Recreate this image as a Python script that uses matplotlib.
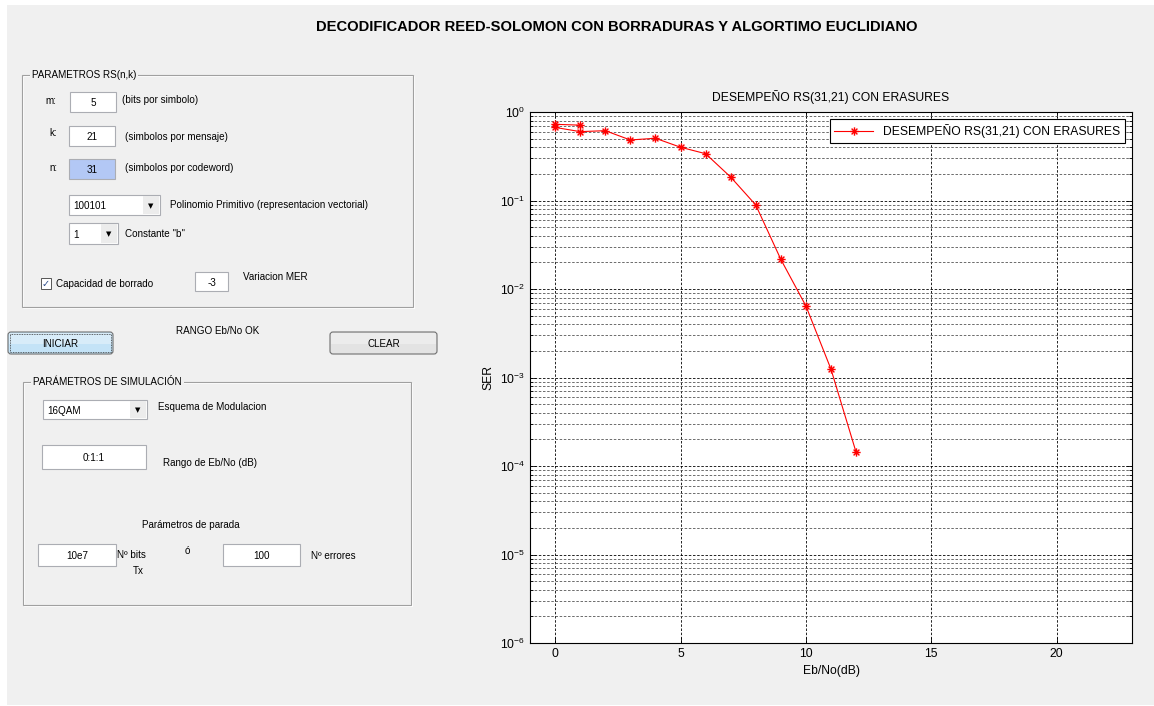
import numpy as np
import matplotlib
matplotlib.use("Agg")
import matplotlib.pyplot as plt
from matplotlib.patches import Rectangle, FancyBboxPatch
from matplotlib.path import Path
from matplotlib.ticker import LogLocator, NullFormatter

plt.rcParams['font.family'] = ['Liberation Sans', 'DejaVu Sans']
plt.rcParams['axes.unicode_minus'] = False

# data
ebno_last = [0, 1]
ser_last = [0.726, 0.71]
ebno_full = [0, 1, 2, 3, 4, 5, 6, 7, 8, 9, 10, 11, 12]
ser_full = [0.67, 0.60, 0.615, 0.483, 0.505, 0.40, 0.338, 0.184, 0.089,
            0.0216, 0.00643, 0.00124, 0.000143]
legend_label = 'DESEMPEÑO RS(31,21) CON ERASURES'
x_ticks = [0, 5, 10, 15, 20]

W, H = 1154, 706
fig = plt.figure(figsize=(W / 100, H / 100), dpi=100, facecolor='white')

# pixel-space canvas for the GUI widgets
bg = fig.add_axes([0, 0, 1, 1])
bg.set_xlim(0, W)
bg.set_ylim(H, 0)
bg.axis('off')
bg.add_patch(Rectangle((7, 5), W - 7, 700, fc='#f0f0f0', ec='none'))

GUI_FS = 7.1


def label(x, y, s, ha='left', fs=GUI_FS, **kw):
    bg.text(x, y, s, ha=ha, va='center', fontsize=fs, color='black', **kw)


def edit_box(x0, y0, x1, y1, s, fc='white'):
    bg.add_patch(Rectangle((x0, y0), x1 - x0, y1 - y0, fc=fc, ec='#abadb3', lw=0.8))
    label((x0 + x1) / 2, (y0 + y1) / 2 + 1, s, ha='center')


def popup(x0, y0, x1, y1, s):
    bg.add_patch(Rectangle((x0, y0), x1 - x0, y1 - y0, fc='white', ec='#abadb3', lw=0.8))
    bg.add_patch(Rectangle((x1 - 17, y0 + 1), 16, y1 - y0 - 2, fc='#ececec', ec='none'))
    label(x0 + 4, (y0 + y1) / 2 + 1, s)
    bg.text(x1 - 9, (y0 + y1) / 2 + 1, '▼', ha='center', va='center', fontsize=5,
            family='DejaVu Sans')


def button(x0, y0, x1, y1, s, fc='#e3e3e3', focus=False):
    bg.add_patch(FancyBboxPatch((x0, y0), x1 - x0, y1 - y0,
                                boxstyle='round,pad=0,rounding_size=3',
                                fc=fc, ec='#707070', lw=0.8))
    bg.add_patch(Rectangle((x0 + 1, y0 + 1), x1 - x0 - 2, (y1 - y0) / 2,
                           fc='white', ec='none', alpha=0.35))
    if focus:
        bg.add_patch(Rectangle((x0 + 2, y0 + 2), x1 - x0 - 4, y1 - y0 - 4,
                               fc='none', ec='#333333', lw=0.6, ls=(0, (1, 1))))
    label((x0 + x1) / 2, (y0 + y1) / 2 + 1, s, ha='center')


def panel(x0, y0, x1, y1, title):
    bg.add_patch(Rectangle((x0 + 1, y0 + 1), x1 - x0, y1 - y0, fc='none', ec='white', lw=0.8))
    bg.add_patch(Rectangle((x0, y0), x1 - x0, y1 - y0, fc='none', ec='#a0a0a0', lw=0.8))
    bg.text(x0 + 10, y0, title, ha='left', va='center', fontsize=GUI_FS,
            bbox=dict(fc='#f0f0f0', ec='none', pad=1.5))


# main title
bg.text(617, 27, 'DECODIFICADOR REED-SOLOMON CON BORRADURAS Y ALGORTIMO EUCLIDIANO',
        ha='center', va='center', fontsize=10.6, fontweight='bold')

# panel RS(n,k)
panel(22, 75, 413, 307, 'PARAMETROS RS(n,k)')
label(45, 101, 'm:')
edit_box(70, 92, 116, 112, '5')
label(122, 100, '(bits por simbolo)')
label(49, 133, 'k:')
edit_box(69, 126, 115, 146, '21')
label(125, 137, '(simbolos por mensaje)')
label(49, 168, 'n:')
edit_box(69, 159, 115, 179, '31', fc='#b3c8f5')
label(125, 168, '(simbolos por codeword)')
popup(69, 195, 160, 215, '100101')
label(170, 205, 'Polinomio Primitivo (representacion vectorial)')
popup(69, 223, 118, 244, '1')
label(125, 234, 'Constante "b"')
bg.add_patch(Rectangle((41, 278), 10, 11, fc='white', ec='#555555', lw=0.7))
bg.text(46, 284, '✓', ha='center', va='center', fontsize=7, color='#2a4a8a',
        family='DejaVu Sans')
label(56, 284, 'Capacidad de borrado')
edit_box(195, 272, 228, 291, '-3')
label(243, 277, 'Variacion MER')

# buttons
button(8, 332, 113, 354, 'INICIAR', fc='#c4e3f7', focus=True)
label(218, 331, 'RANGO Eb/No OK', ha='center')
button(330, 332, 437, 354, 'CLEAR')

# panel simulation
panel(23, 382, 411, 605, 'PARÁMETROS DE SIMULACIÓN')
popup(43, 400, 147, 419, '16QAM')
label(158, 407, 'Esquema de Modulacion')
edit_box(42, 445, 146, 469, '0:1:1')
label(163, 463, 'Rango de Eb/No (dB)')
label(191, 525, 'Parámetros de parada', ha='center')
edit_box(38, 544, 116, 566, '10e7')
label(117, 555, 'Nº bits')
label(133, 571, 'Tx')
label(187, 551, 'ó', ha='center')
edit_box(223, 544, 300, 566, '100')
label(311, 556, 'Nº errores')

# the SER plot
ax = fig.add_axes([530 / W, 1 - 643 / H, (1132 - 530) / W, (643 - 112) / H])
ax.set_facecolor('white')

# MATLAB-style asterisk marker
ast = Path([(-1, 0), (1, 0), (0, -1), (0, 1), (-0.7, -0.7), (0.7, 0.7), (-0.7, 0.7), (0.7, -0.7)],
           [Path.MOVETO, Path.LINETO] * 4)

l1, = ax.semilogy(ebno_last, ser_last, '-', color='red', lw=0.8, marker=ast,
                  markersize=6, mec='red', mew=1.0)
ax.semilogy(ebno_full, ser_full, '-', color='red', lw=0.8, marker=ast,
            markersize=6, mec='red', mew=1.0)

ax.set_xlim(-1, 23)
ax.set_ylim(1e-6, 1)
ax.set_xticks(x_ticks)
ax.yaxis.set_major_locator(LogLocator(base=10, numticks=10))
ax.yaxis.set_minor_locator(LogLocator(base=10, subs=np.arange(2, 10), numticks=20))
ax.yaxis.set_minor_formatter(NullFormatter())

ax.grid(True, which='major', axis='both', color='black', lw=0.6, ls=(0, (3, 2)))
ax.grid(True, which='minor', axis='y', color='#555555', lw=0.6, ls=(0, (3, 2)))
ax.tick_params(which='both', direction='in', top=True, right=True, labelsize=8.7,
               width=0.6)
ax.tick_params(which='major', length=4)
ax.tick_params(which='minor', length=2)
for sp in ax.spines.values():
    sp.set_linewidth(0.8)

ax.set_title(legend_label, fontsize=8.7, pad=8)
ax.set_xlabel('Eb/No(dB)', fontsize=8.7, labelpad=4)
ax.set_ylabel('SER', fontsize=8.7, labelpad=4)

leg = ax.legend([l1], [legend_label], loc='upper right', fontsize=8.7, numpoints=1,
                fancybox=False, edgecolor='black', framealpha=1,
                borderaxespad=0.6, handlelength=3.2, borderpad=0.4)
leg.get_frame().set_linewidth(0.8)

fig.savefig('out.png', dpi=100, facecolor='white')
